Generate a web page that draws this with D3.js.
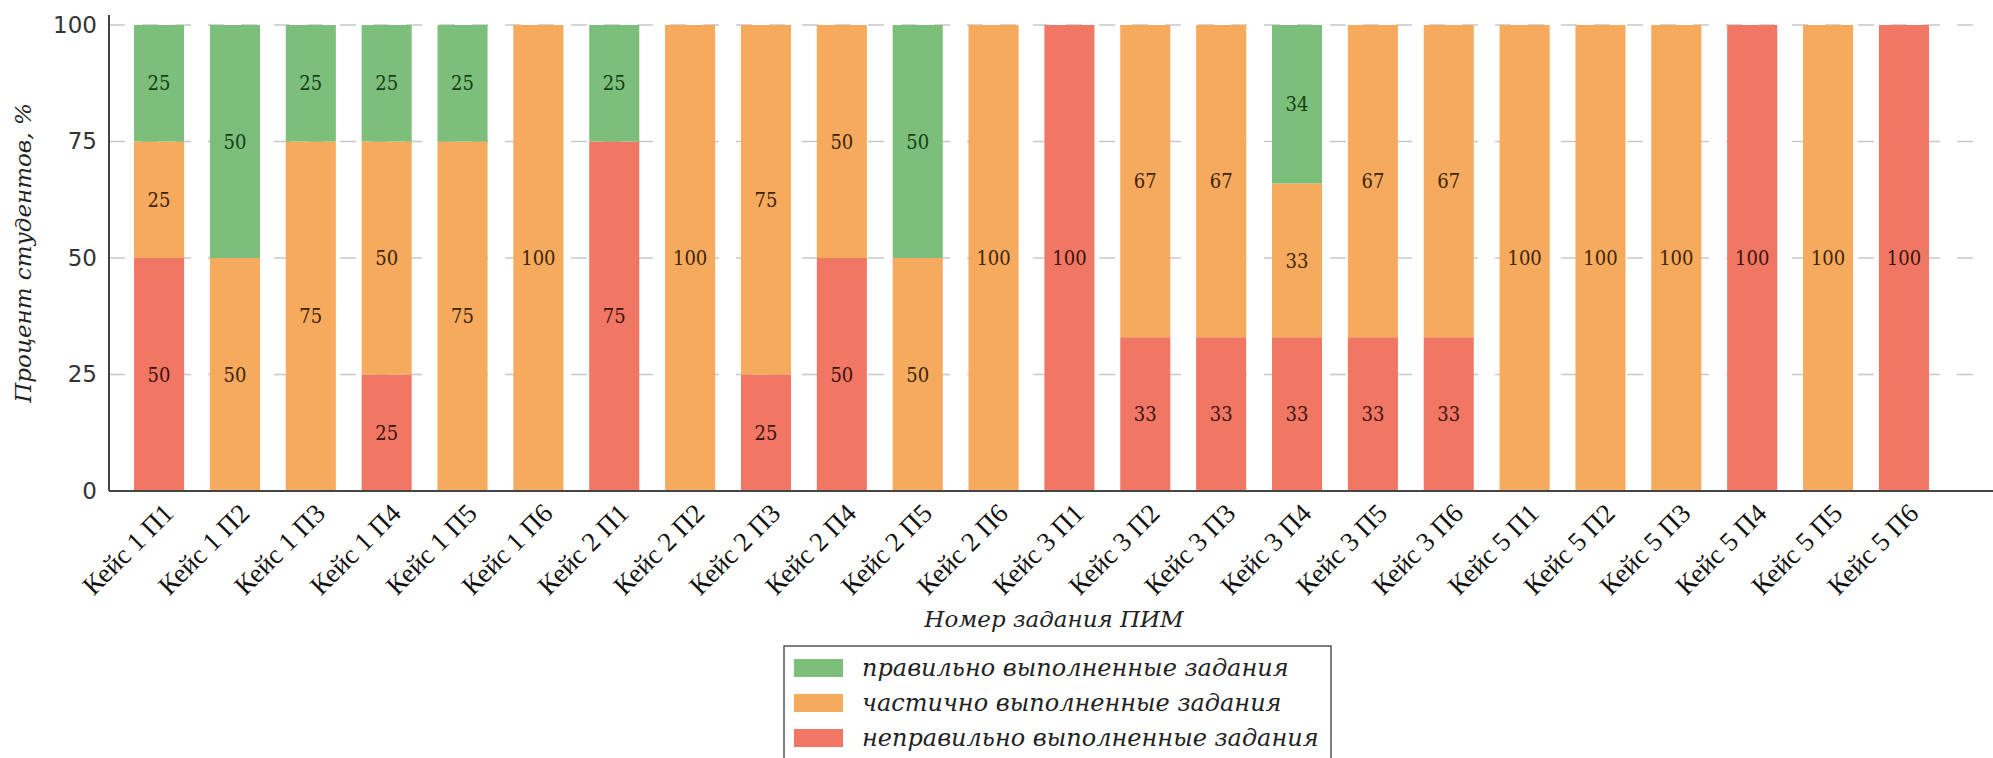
<!DOCTYPE html>
<html><head><meta charset="utf-8">
<script src="https://cdn.jsdelivr.net/npm/d3@7"></script>
<style>body{margin:0;background:#fff}svg{display:block}</style>
</head><body>
<svg id="chart" width="1993" height="758"></svg>
<script>
const categories = ["Кейс 1 П1","Кейс 1 П2","Кейс 1 П3","Кейс 1 П4","Кейс 1 П5","Кейс 1 П6",
  "Кейс 2 П1","Кейс 2 П2","Кейс 2 П3","Кейс 2 П4","Кейс 2 П5","Кейс 2 П6",
  "Кейс 3 П1","Кейс 3 П2","Кейс 3 П3","Кейс 3 П4","Кейс 3 П5","Кейс 3 П6",
  "Кейс 5 П1","Кейс 5 П2","Кейс 5 П3","Кейс 5 П4","Кейс 5 П5","Кейс 5 П6"];
const wrong   = [50,0,0,25,0,0, 75,0,25,50,0,0, 100,33,33,33,33,33, 0,0,0,100,0,100];
const partial = [25,50,75,50,75,100, 0,100,75,50,50,100, 0,67,67,33,67,67, 100,100,100,0,100,0];
const correct = [25,50,25,25,25,0, 25,0,0,0,50,0, 0,0,0,34,0,0, 0,0,0,0,0,0];
const yTicks = [0,25,50,75,100];
const seriesNames = ["правильно выполненные задания","частично выполненные задания","неправильно выполненные задания"];
const yTitle = "Процент студентов, %";
const xTitle = "Номер задания ПИМ";

const colors = {wrong:"#ef7764", partial:"#f6aa5d", correct:"#7cbf7b"};
const textColors = {wrong:"#3e120c", partial:"#3e2408", correct:"#163e16"};

const svg = d3.select("#chart");
const x = d3.scaleBand().domain(categories).range([109,1954]).paddingInner(0.34).paddingOuter(0.33);
const y = d3.scaleLinear().domain([0,100]).range([491,25]);

// gridlines
svg.append("g").selectAll("line").data(yTicks.filter(d=>d>0)).join("line")
  .attr("x1",109).attr("x2",1985).attr("y1",d=>y(d)).attr("y2",d=>y(d))
  .attr("stroke","#c8c8c8").attr("stroke-width",1.5).attr("stroke-dasharray","16,17");

// stacked data
const rows = categories.map((c,i)=>({cat:c, wrong:wrong[i], partial:partial[i], correct:correct[i]}));
const keys = ["wrong","partial","correct"];
const stack = d3.stack().keys(keys)(rows);

const gBars = svg.append("g");
stack.forEach(layer=>{
  const k = layer.key;
  gBars.append("g").selectAll("rect").data(layer.filter(d=>d[1]-d[0]>0)).join("rect")
    .attr("x",d=>x(d.data.cat)).attr("width",x.bandwidth())
    .attr("y",d=>y(d[1])).attr("height",d=>y(d[0])-y(d[1]))
    .attr("fill",colors[k]);
});
stack.forEach(layer=>{
  const k = layer.key;
  gBars.append("g").selectAll("text").data(layer.filter(d=>d[1]-d[0]>0)).join("text")
    .attr("x",d=>x(d.data.cat)+x.bandwidth()/2).attr("y",d=>y((d[0]+d[1])/2))
    .attr("dy","0.36em").attr("text-anchor","middle")
    .attr("font-family","DejaVu Serif").attr("font-stretch","condensed").attr("font-size",20)
    .attr("fill",textColors[k]).text(d=>d[1]-d[0]);
});

// axes spines
svg.append("line").attr("x1",109).attr("x2",109).attr("y1",15).attr("y2",491).attr("stroke","#444").attr("stroke-width",2);
svg.append("line").attr("x1",109).attr("x2",1993).attr("y1",491).attr("y2",491).attr("stroke","#444").attr("stroke-width",2);

// y tick labels
const yAxis = d3.axisLeft(y).tickValues(yTicks).tickSize(0).tickPadding(12);
const gy = svg.append("g").attr("transform","translate(109,0)").call(yAxis);
gy.select(".domain").remove();
gy.selectAll("text").attr("font-family","DejaVu Sans").attr("font-size",23).attr("fill","#333");

// x tick labels
const xAxis = d3.axisBottom(x).tickSize(0).tickPadding(0);
const gx = svg.append("g").attr("transform","translate(0,491)").call(xAxis);
gx.select(".domain").remove();
gx.selectAll("text")
  .attr("font-family","Liberation Serif").attr("font-size",27).attr("fill","#111")
  .attr("text-anchor","end").attr("dy",0).attr("y",0)
  .attr("transform","translate(16,24) rotate(-45)");

// axis titles
svg.append("text").attr("transform","translate(31,253) rotate(-90)").attr("text-anchor","middle")
  .attr("font-family","DejaVu Serif").attr("font-style","italic").attr("font-size",23).attr("fill","#222").text(yTitle);
svg.append("text").attr("x",1054).attr("y",627).attr("text-anchor","middle")
  .attr("font-family","DejaVu Serif").attr("font-style","italic").attr("font-size",23).attr("fill","#222").text(xTitle);

// legend
const lg = svg.append("g");
lg.append("rect").attr("x",784).attr("y",646).attr("width",547).attr("height",130)
  .attr("fill","#fff").attr("stroke","#555").attr("stroke-width",1.5);
const legendKeys = ["correct","partial","wrong"];
const rowsY = [668,703,738];
legendKeys.forEach((k,i)=>{
  lg.append("rect").attr("x",794).attr("y",rowsY[i]-9).attr("width",49).attr("height",18).attr("fill",colors[k]);
  lg.append("text").attr("x",862).attr("y",rowsY[i]).attr("dy","0.35em")
    .attr("font-family","DejaVu Serif").attr("font-style","italic").attr("font-size",24).attr("fill","#222")
    .text(seriesNames[i]);
});
</script>
</body></html>
